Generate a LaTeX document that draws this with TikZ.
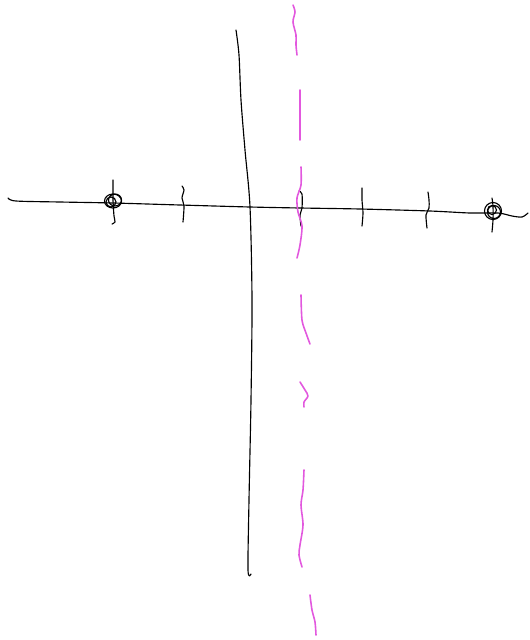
\documentclass[tikz,border=0pt]{standalone}
\usetikzlibrary{calc}
\definecolor{pen}{RGB}{226,88,222}

\begin{document}
\begin{tikzpicture}[x=0.02cm, y=-0.02cm,
  sketch/.style={line width=0.65pt, line cap=round, line join=round},
  marker/.style={sketch, draw=pen, line width=0.9pt}]
\useasboundingbox (0,0) rectangle (530,640);

\coordinate (L) at (113,201);
\coordinate (R) at (493,211);

% axes
\draw[sketch] plot[smooth] coordinates {(8,198) (16,201) (60,202) (113,203) (180,205)
  (250,207) (300,208) (360,209) (430,211) (470,213) (498,213) (512,216) (522,217) (528,213)};
\draw[sketch] plot[smooth] coordinates {(236,30) (239,55) (241,100) (245,150) (250,207)
  (252,300) (251,400) (249,500) (248,570) (251,574)};

% ticks
\draw[sketch] plot[smooth] coordinates {(113,180) (113,200) (114,216) (115,222) (112,224)};
\draw[sketch] plot[smooth] coordinates {(182,186) (184,190) (182,198) (184,206) (183,222)};
\draw[sketch] plot[smooth] coordinates {(299,191) (302,194) (302,208) (300,215) (301,226)};
\draw[sketch] plot[smooth] coordinates {(362,188) (362,200) (363,213) (362,226)};
\draw[sketch] plot[smooth] coordinates {(428,192) (429,200) (429,208) (426,215) (427,228)};
\draw[sketch] plot[smooth] coordinates {(492,198) (493,206) (493,220) (492,232)};

% open points
\draw[sketch] (L) ellipse[x radius=0.17cm, y radius=0.14cm];
\draw[sketch] ($(L)+(2,-1)$) ellipse[x radius=0.13cm, y radius=0.12cm];
\draw[sketch] ($(L)+(-2,1)$) circle[radius=0.1cm];
\draw[sketch] (R) circle[radius=0.17cm];
\draw[sketch] ($(R)+(1,1)$) circle[radius=0.13cm];
\draw[sketch] ($(R)+(-1,-1)$) circle[radius=0.09cm];

% dashed line x = const
\draw[marker] plot[smooth] coordinates {(293,5) (295,12) (293,22) (296,35) (296,45) (297,55)};
\draw[marker] plot[smooth] coordinates {(300,90) (300,115) (300,140)};
\draw[marker] plot[smooth] coordinates {(301,167) (301,185) (297,198) (298,212) (302,226) (300,245) (297,258)};
\draw[marker] plot[smooth] coordinates {(301,295) (302,320) (306,333) (310,344)};
\draw[marker] plot[smooth] coordinates {(300,382) (305,390) (308,396) (304,402) (304,407)};
\draw[marker] plot[smooth] coordinates {(304,470) (303,490) (301,505) (303,525) (300,545) (299,555) (302,567)};
\draw[marker] plot[smooth] coordinates {(310,595) (312,610) (315,622) (316,635)};
\end{tikzpicture}
\end{document}
